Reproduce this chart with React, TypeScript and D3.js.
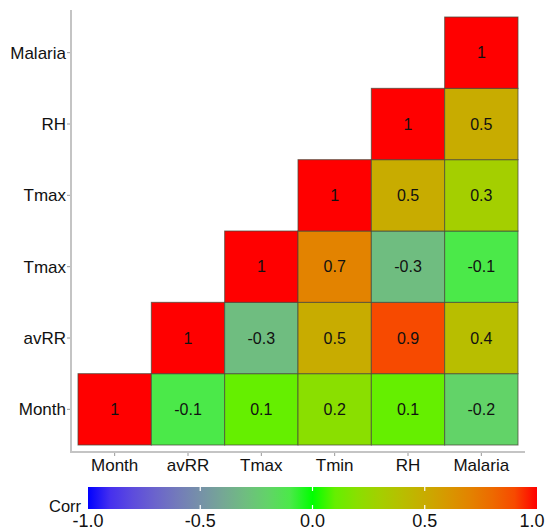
import React from 'react';
import * as d3 from 'd3';

// variables along the x axis (columns) and y axis (rows, bottom to top)
const xLabels = ['Month', 'avRR', 'Tmax', 'Tmin', 'RH', 'Malaria'];
const yLabels = ['Month', 'avRR', 'Tmax', 'Tmax', 'RH', 'Malaria'];

// correlation values, one list per row (bottom to top), starting at the diagonal
const rowMonth = [1, -0.1, 0.1, 0.2, 0.1, -0.2];
const rowAvRR = [1, -0.3, 0.5, 0.9, 0.4];
const rowTmax = [1, 0.7, -0.3, -0.1];
const rowTmax2 = [1, 0.5, 0.3];
const rowRH = [1, 0.5];
const rowMalaria = [1];
const rows = [rowMonth, rowAvRR, rowTmax, rowTmax2, rowRH, rowMalaria];

const legendTicks = [-1, -0.5, 0, 0.5, 1];

const W = 548, H = 532;
const font = '"Liberation Sans", Arial, sans-serif';

export default function App() {
  const panel = { left: 71, right: 525, top: 10, bottom: 452 };
  const inset = 7;

  const x = d3.scaleBand<number>()
    .domain(d3.range(xLabels.length))
    .range([panel.left + inset, panel.right - inset]);
  const y = d3.scaleBand<number>()
    .domain(d3.range(yLabels.length))
    .range([panel.bottom - inset, panel.top + inset]);

  const color = d3.scaleLinear<string>()
    .domain([-1, 0, 1])
    .range(['#0000ff', '#00ff00', '#ff0000'])
    .interpolate(d3.interpolateLab);

  const cells: { r: number; c: number; v: number }[] = [];
  rows.forEach((vals, r) => {
    vals.forEach((v, i) => cells.push({ r, c: r + i, v }));
  });

  // legend
  const lx = d3.scaleLinear().domain([-1, 1]).range([88, 537]);
  const barTop = 487, barH = 22;
  const stops = d3.range(0, 1.0001, 0.05).map(t => ({ t, c: color(-1 + 2 * t) }));

  return (
    <div style={{ position: 'absolute', left: 0, top: 0 }}>
      <svg width={W} height={H} style={{ display: 'block', fontFamily: font }}>
        <defs>
          <linearGradient id="corrGrad" x1="0" x2="1" y1="0" y2="0">
            {stops.map(s => <stop key={s.t} offset={s.t} stopColor={s.c} />)}
          </linearGradient>
        </defs>
        <rect width={W} height={H} fill="#fff" />

        {cells.map(d => (
          <g key={d.r + '-' + d.c}>
            <rect x={x(d.c)} y={y(d.r)} width={x.bandwidth()} height={y.bandwidth()}
              fill={color(d.v)} stroke="#4a4a3a" strokeOpacity={0.75} strokeWidth={1} />
            <text x={x(d.c)! + x.bandwidth() / 2} y={y(d.r)! + y.bandwidth() / 2}
              dy="0.36em" textAnchor="middle" fontSize={16} fill="#111">{d.v}</text>
          </g>
        ))}

        {/* axis lines */}
        <line x1={panel.left} x2={panel.left} y1={panel.top} y2={panel.bottom + 1} stroke="#c4c4c4" strokeWidth={2} />
        <line x1={panel.left - 1} x2={panel.right} y1={panel.bottom} y2={panel.bottom} stroke="#c4c4c4" strokeWidth={2} />

        {yLabels.map((l, i) => {
          const cy = y(i)! + y.bandwidth() / 2;
          return (
            <g key={'y' + i}>
              <line x1={panel.left - 4} x2={panel.left - 1} y1={cy} y2={cy} stroke="#999" />
              <text x={panel.left - 5} y={cy} dy="0.36em" textAnchor="end" fontSize={17} fill="#111">{l}</text>
            </g>
          );
        })}
        {xLabels.map((l, i) => {
          const cx = x(i)! + x.bandwidth() / 2;
          return (
            <g key={'x' + i}>
              <line x1={cx} x2={cx} y1={panel.bottom + 1} y2={panel.bottom + 4} stroke="#999" />
              <text x={cx} y={470.5} textAnchor="middle" fontSize={17} fill="#111">{l}</text>
            </g>
          );
        })}

        {/* colour bar legend */}
        <text x={49} y={512} fontSize={16.5} fill="#111">Corr</text>
        <rect x={lx(-1)} y={barTop} width={lx(1) - lx(-1)} height={barH} fill="url(#corrGrad)" />
        {legendTicks.slice(1, -1).map(t => (
          <g key={'lt' + t}>
            <line x1={lx(t)} x2={lx(t)} y1={barTop} y2={barTop + 4} stroke="#fff" strokeWidth={1.2} />
            <line x1={lx(t)} x2={lx(t)} y1={barTop + barH - 4} y2={barTop + barH} stroke="#fff" strokeWidth={1.2} />
          </g>
        ))}
        {legendTicks.map(t => (
          <text key={'ll' + t} x={Math.min(lx(t), 532)} y={526.5} textAnchor="middle" fontSize={18} fill="#111">
            {d3.format('.1f')(t).replace('−', '-')}
          </text>
        ))}
      </svg>
    </div>
  );
}
